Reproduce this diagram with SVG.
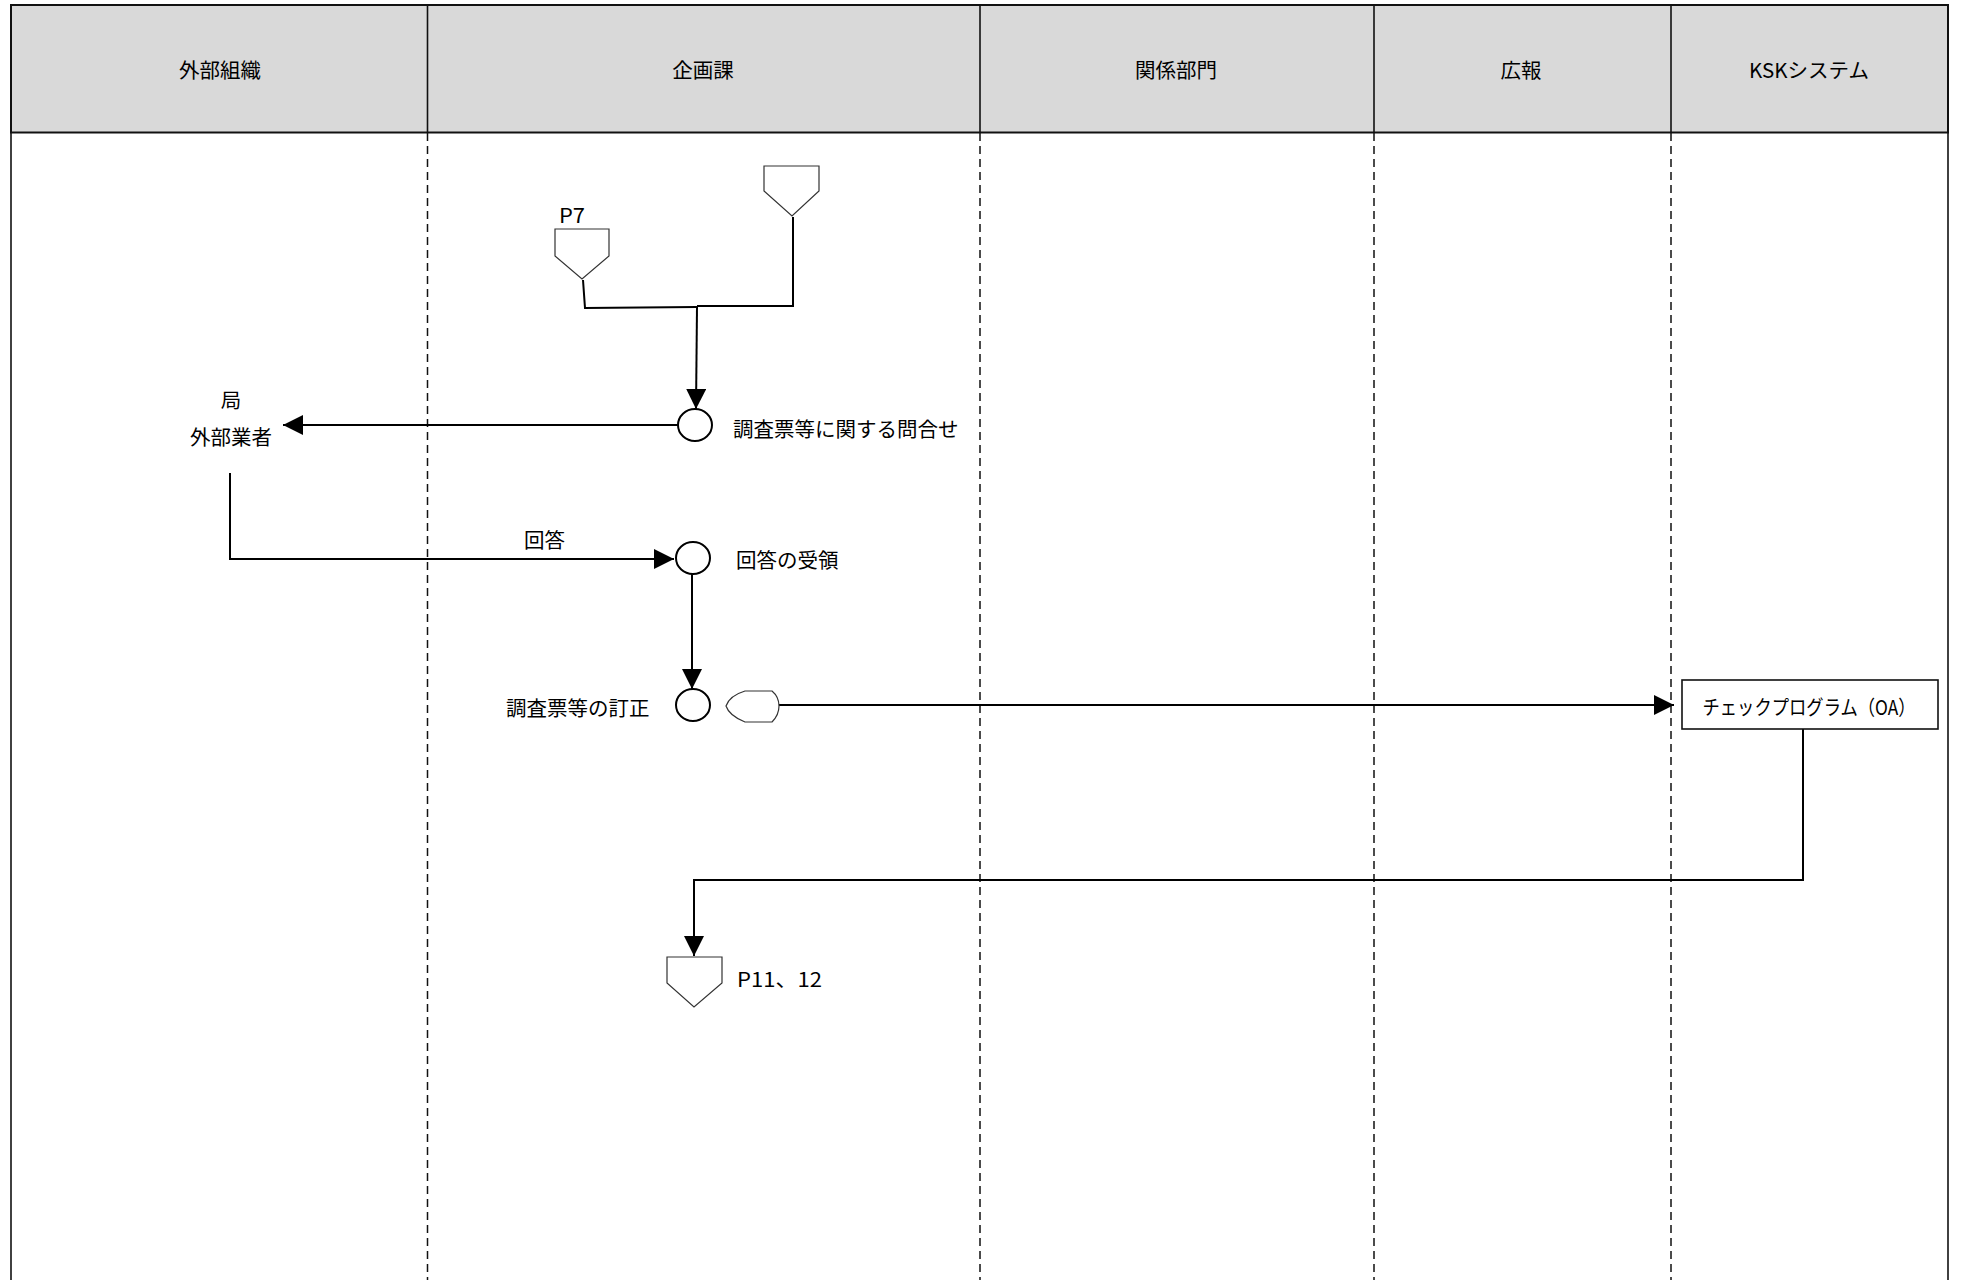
<svg xmlns="http://www.w3.org/2000/svg" width="1961" height="1280" viewBox="0 0 1961 1280">
<style>
text{font-family:"Noto Sans CJK JP","Noto Sans",sans-serif;font-size:20.5px;fill:#000}
.hdr{fill:#d9d9d9;stroke:#111;stroke-width:2}
.div{stroke:#111;stroke-width:1.6}
.dash{stroke:#111;stroke-width:1.5;stroke-dasharray:8 5}
.conn{fill:none;stroke:#000;stroke-width:2}
.circ{fill:#fff;stroke:#000;stroke-width:2}
.off{fill:#fff;stroke:#333;stroke-width:1.2}
.box{fill:#fff;stroke:#111;stroke-width:1.6}
.mid{text-anchor:middle}
</style>
<defs>
<marker id="arr" viewBox="0 0 20 20" refX="20" refY="10" markerWidth="20" markerHeight="20" markerUnits="userSpaceOnUse" orient="auto">
<path d="M0,0 L20,10 L0,20 Z" fill="#000"/>
</marker>
</defs>
<rect width="1961" height="1280" fill="#fff"/>
<g id="lanes">
<rect class="hdr" x="11" y="5" width="1937" height="127.5"/>
<line class="div" x1="427.5" y1="5" x2="427.5" y2="132.5"/>
<line class="div" x1="980" y1="5" x2="980" y2="132.5"/>
<line class="div" x1="1374" y1="5" x2="1374" y2="132.5"/>
<line class="div" x1="1671" y1="5" x2="1671" y2="132.5"/>
<line class="div" x1="11" y1="132.5" x2="11" y2="1280"/>
<line class="div" x1="1948" y1="132.5" x2="1948" y2="1280"/>
<line class="dash" x1="427.5" y1="133" x2="427.5" y2="1280"/>
<line class="dash" x1="980" y1="133" x2="980" y2="1280"/>
<line class="dash" x1="1374" y1="133" x2="1374" y2="1280"/>
<line class="dash" x1="1671" y1="133" x2="1671" y2="1280"/>
<text class="mid" x="220" y="78">外部組織</text>
<text class="mid" x="703" y="78">企画課</text>
<text class="mid" x="1176" y="78">関係部門</text>
<text class="mid" x="1521" y="78">広報</text>
<text class="mid" x="1809" y="78" textLength="120" lengthAdjust="spacingAndGlyphs">KSKシステム</text>
</g>
<g id="connectors">
<path class="conn" d="M583,280 L585,308 L697,307"/>
<path class="conn" d="M793,217 L793,306 L697,306"/>
<path class="conn" d="M697,307 L696,409" marker-end="url(#arr)"/>
<path class="conn" d="M678,425 L283,425" marker-end="url(#arr)"/>
<path class="conn" d="M230,473 L230,559 L674,559" marker-end="url(#arr)"/>
<path class="conn" d="M692,574 L692,689" marker-end="url(#arr)"/>
<path class="conn" d="M779,705 L1674,705" marker-end="url(#arr)"/>
<path class="conn" d="M1803,729 L1803,880 L694,880 L694,956" marker-end="url(#arr)"/>
</g>
<g id="off-p7">
<polygon class="off" points="555,229 609,229 609,256 582,279 555,256"/>
<text x="559" y="223" font-size="19" textLength="26" lengthAdjust="spacingAndGlyphs">P7</text>
</g>
<g id="off-top">
<polygon class="off" points="764,166 819,166 819,191 792,216 764,191"/>
</g>
<g id="inquiry">
<ellipse class="circ" cx="695" cy="425" rx="17" ry="16"/>
<text x="733" y="437">調査票等に関する問合せ</text>
</g>
<g id="external">
<text class="mid" x="231" y="408">局</text>
<text class="mid" x="231" y="445">外部業者</text>
</g>
<g id="answer-label">
<text x="524" y="548">回答</text>
</g>
<g id="receive">
<ellipse class="circ" cx="693" cy="558" rx="17" ry="16"/>
<text x="736" y="568">回答の受領</text>
</g>
<g id="correct">
<ellipse class="circ" cx="693" cy="705" rx="17" ry="16"/>
<text x="506" y="716">調査票等の訂正</text>
</g>
<g id="display">
<path class="off" d="M745,691 L772,691 C778,696 779,701 779,706 C779,711 777,717 772,722 L745,722 C735,718 728,712 726,706 C728,700 735,694 745,691 Z"/>
</g>
<g id="check">
<rect class="box" x="1682" y="680" width="256" height="49"/>
<text class="mid" x="1809" y="715" font-size="18.5" textLength="213" lengthAdjust="spacingAndGlyphs">チェックプログラム（OA）</text>
</g>
<g id="off-p11">
<polygon class="off" points="667,957 722,957 722,983 694,1007 667,983"/>
<text x="737" y="987" font-size="20" textLength="85" lengthAdjust="spacingAndGlyphs">P11、12</text>
</g>
</svg>
